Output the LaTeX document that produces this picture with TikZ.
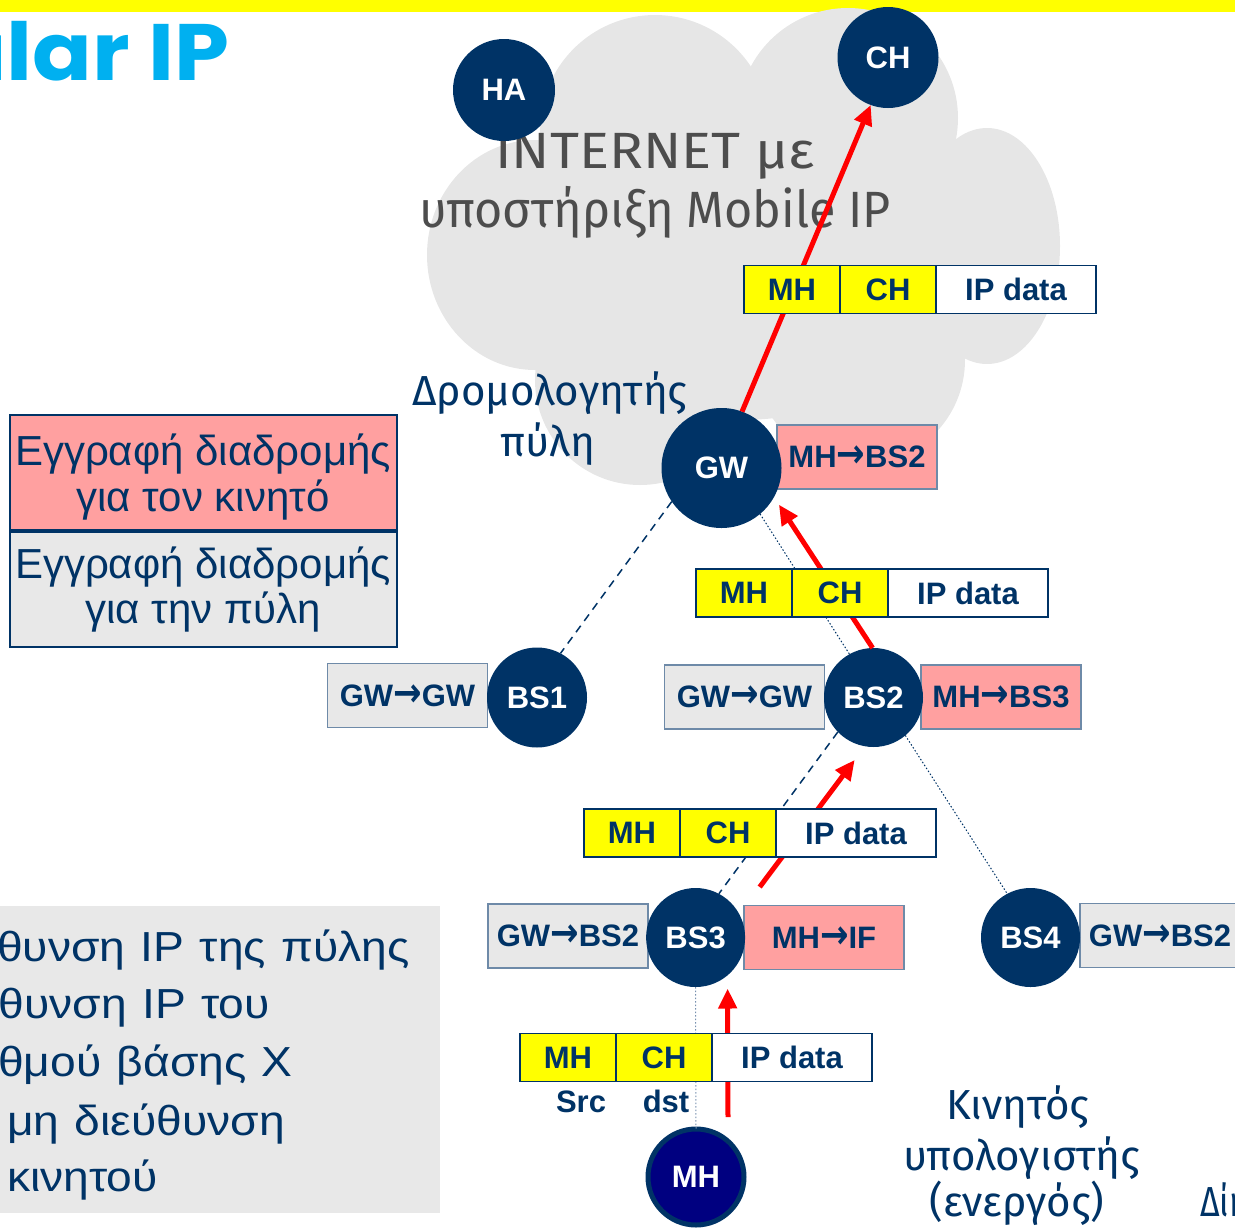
\documentclass[tikz,border=0pt]{standalone}
\usepackage{graphicx}
\usepackage{fontspec}
\setmainfont{Liberation Sans}
\newfontfamily\handfont{Fira Sans}
\newfontfamily\titlefont{Poppins}
\newfontfamily\arrowfont{DejaVu Sans}
\usetikzlibrary{arrows.meta,calc}

\definecolor{navy}{RGB}{0,51,102}
\definecolor{deepnavy}{RGB}{0,0,128}
\definecolor{cloudgray}{RGB}{230,230,230}
\definecolor{boxgray}{RGB}{232,232,232}
\definecolor{boxedge}{RGB}{110,138,168}
\definecolor{rowpink}{RGB}{255,160,160}
\definecolor{pktyellow}{RGB}{255,255,0}
\definecolor{textgray}{RGB}{77,77,77}
\definecolor{skyblue}{RGB}{0,176,240}
\definecolor{dotblue}{RGB}{120,145,175}

% heavy arrow used inside the routing entries
\newcommand{\routearrow}{{\arrowfont\bfseries\scalebox{1.1}[1.3]{→}}}
% address note line: slightly wider letters and word gaps
\newcommand{\noteline}[1]{\scalebox{1.1}[1]{\spaceskip=14pt\relax #1}}

\tikzset{
  boldtext/.style={font=\fontsize{31}{31}\selectfont\bfseries},
  station/.style={circle, fill=navy, inner sep=0pt, outer sep=0pt,
    minimum size=100pt, text=white, boldtext},
  cell/.style={rectangle, draw=navy, line width=1.2pt, minimum height=48pt,
    inner sep=0pt, outer sep=0pt, text=navy, boldtext},
  hdr/.style={cell, fill=pktyellow, minimum width=96pt},
  payload/.style={cell, fill=white, minimum width=160pt},
  route/.style={rectangle, draw=boxedge, line width=1.2pt, minimum width=160pt,
    minimum height=64pt, inner sep=0pt, text=navy, boldtext},
  mobroute/.style={route, fill=rowpink},
  gwroute/.style={route, fill=boxgray},
  flow/.style={draw=red, line width=5pt, -{Triangle[length=20pt,width=18pt]}},
  dashlink/.style={draw=navy, line width=1.5pt, dash pattern=on 8pt off 6pt},
  dotlink/.style={draw=navy, line width=1pt, dash pattern=on 1.5pt off 2pt},
  legendrow/.style={rectangle, draw=navy, line width=2pt, minimum width=387pt,
    minimum height=115pt, inner sep=0pt},
  legendtext/.style={anchor=base, text=navy, font=\fontsize{42}{42}\selectfont},
  notetext/.style={text=navy, inner sep=0pt, font=\fontsize{42}{42}\selectfont},
  handtext/.style={anchor=base, text=navy, font=\handfont\fontsize{42}{42}\selectfont},
  smalllabel/.style={anchor=base, text=navy, boldtext}
}

\begin{document}
\begin{tikzpicture}[x=1pt,y=-1pt]
\useasboundingbox (0,0) rectangle (1235,1227);
\clip (0,0) rectangle (1235,1227);

% banner strip along the top edge
\fill[pktyellow] (0,0) rectangle (1235,11.7);

% the Internet cloud, built from overlapping lobes
\begin{scope}[fill=cloudgray]
  \fill (740,250) ellipse [x radius=230, y radius=170];
  \fill (655,130) circle [radius=115];
  \fill (848,118) circle [radius=110];
  \fill (987,246) ellipse [x radius=73, y radius=118];
  \fill (860,360) circle [radius=105];
  \fill (640,380) circle [radius=105];
  \fill (535,255) ellipse [x radius=108, y radius=115];
\end{scope}

% title
\node[anchor=base east, text=skyblue, inner sep=0pt,
  font=\titlefont\bfseries\fontsize{80}{80}\selectfont] (title) at (230,80)
  {\scalebox{1.1}[1]{ular IP}};

% cloud caption
\node[handtext, text=textgray, font=\handfont\fontsize{51}{51}\selectfont] (net1) at (655,168)
  {\scalebox{1.1}[1]{INTERNET με}};
\node[handtext, text=textgray, font=\handfont\fontsize{51}{51}\selectfont] (net2) at (655,227)
  {\scalebox{0.95}[1]{υποστήριξη Mobile IP}};

% gateway caption
\node[handtext] (gwcap1) at (550,405) {Δρομολογητής};
\node[handtext] (gwcap2) at (548,456) {πύλη};

% mobile host caption
\node[handtext] (mhcap1) at (1018,1119) {Κινητός};
\node[handtext] (mhcap2) at (1022,1170) {υπολογιστής};
\node[handtext] (mhcap3) at (1017,1216) {(ενεργός)};
\node[handtext, anchor=base west, inner sep=0pt] (netcap) at (1200,1216) {\scalebox{0.8}[1]{Δίκ}};

% legend
\node[legendrow, fill=rowpink] (legmob) at (203,472) {};
\node[legendrow, fill=boxgray, anchor=north] (leggw) at (legmob.south) {};
\node[legendtext] (lm1) at (203,465) {Εγγραφή διαδρομής};
\node[legendtext] (lm2) at (203,511.7) {για τον κινητό};
\node[legendtext] (lg1) at (203,578.3) {Εγγραφή διαδρομής};
\node[legendtext] (lg2) at (203,623) {για την πύλη};

% address notes
\fill[boxgray] (0,906) rectangle (440,1213);
\node[notetext, anchor=base east] (note1) at (410,961.7) {\noteline{θυνση IP της πύλης}};
\node[notetext, anchor=base east] (note2) at (270,1018) {\noteline{θυνση IP του}};
\node[notetext, anchor=base east] (note3) at (293,1076.7) {\noteline{θμού βάσης X}};
\node[notetext, anchor=base west] (note4) at (7,1135) {\noteline{μη διεύθυνση}};
\node[notetext, anchor=base west] (note5) at (7,1191.7) {\noteline{κινητού}};

% station centres
\path (504,90) coordinate (cHA) (888,57.5) coordinate (cCH) (721.5,468) coordinate (cGW)
      (537,697.5) coordinate (cBS1) (873.5,697.5) coordinate (cBS2)
      (695.6,937.5) coordinate (cBS3) (1030.5,937.5) coordinate (cBS4) (696,1177) coordinate (cMH);

% routing cache entries
\node[mobroute] (rGW) at (857,457) {MH\routearrow BS2};
\node[gwroute] (rBS1) at (407.5,695.5) {GW\routearrow GW};
\node[gwroute] (rBS2g) at (744.5,697) {GW\routearrow GW};
\node[mobroute] (rBS2m) at (1001,697) {MH\routearrow BS3};
\node[gwroute] (rBS3g) at (568,936) {GW\routearrow BS2};
\node[mobroute] (rBS3m) at (824,937.5) {MH\routearrow IF};
\node[gwroute] (rBS4) at (1160,935.5) {GW\routearrow BS2};

% nodes
\node[station, minimum size=102pt] (HA) at (cHA) {HA};
\node[station, minimum size=101pt] (CH) at (cCH) {CH};
\node[station, minimum size=120pt] (GW) at (cGW) {GW};
\node[station] (BS1) at (cBS1) {BS1};
\node[station, minimum size=99pt] (BS2) at (cBS2) {BS2};
\node[station, minimum size=99pt] (BS3) at (cBS3) {BS3};
\node[station, minimum size=99pt] (BS4) at (cBS4) {BS4};
\node[station, fill=deepnavy, draw=navy, line width=5pt, minimum size=96pt] (MH) at (cMH) {MH};

% tree links
\draw[dashlink] (GW.214) -- (BS1.62);
\draw[dotlink] (GW.-50) -- (BS2.119);
\draw[dashlink] (BS2.224) -- (BS3.62);
\draw[dotlink] (BS2.-50) -- (BS4.118);
\draw[dotlink, draw=dotblue] (BS3.south) -- (MH.north);

% packet path
\draw[flow] ($(MH.center)+(32,-60)$) -- ($(BS3.center)+(32,51)$);
\draw[flow, shorten <=34pt, shorten >=17pt] (BS3.28) -- (BS2.260);
\draw[flow, shorten >=9pt] (BS2.91) -- (GW.-29);
\draw[flow] (GW.70) -- (CH.250);

% packets
\node[hdr] (p1mh) at (792,289.5) {MH};
\node[hdr, anchor=west] (p1ch) at (p1mh.east) {CH};
\node[payload, anchor=west] (p1ip) at (p1ch.east) {IP data};

\node[hdr] (p2mh) at (744,593) {MH};
\node[hdr, anchor=west] (p2ch) at (p2mh.east) {CH};
\node[payload, anchor=west] (p2ip) at (p2ch.east) {IP data};

\node[hdr] (p3mh) at (632,833) {MH};
\node[hdr, anchor=west] (p3ch) at (p3mh.east) {CH};
\node[payload, anchor=west] (p3ip) at (p3ch.east) {IP data};

\node[hdr] (p4mh) at (568,1057.5) {MH};
\node[hdr, anchor=west] (p4ch) at (p4mh.east) {CH};
\node[payload, anchor=west] (p4ip) at (p4ch.east) {IP data};

\node[smalllabel] (src) at (581,1112) {Src};
\node[smalllabel] (dst) at (666,1112) {dst};
\end{tikzpicture}
\end{document}
